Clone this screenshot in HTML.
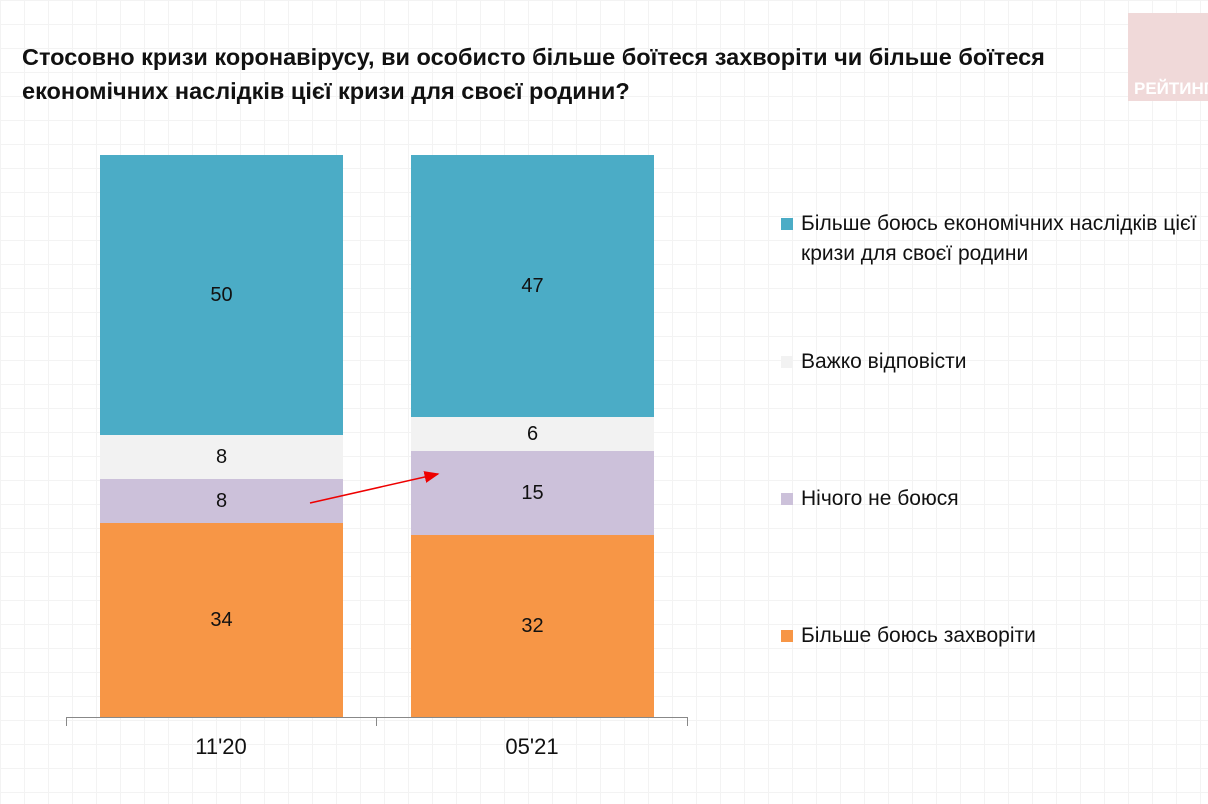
<!DOCTYPE html>
<html><head><meta charset="utf-8"><style>
body{margin:0;width:1208px;height:804px;overflow:hidden;background:#fff;font-family:"Liberation Sans",sans-serif;position:relative;
background-image:linear-gradient(#f3f3f3 1px,transparent 1px),linear-gradient(90deg,#f3f3f3 1px,transparent 1px);background-size:24px 24px;}
.t{position:absolute;left:22px;top:40px;font-weight:bold;font-size:23.5px;line-height:34px;color:#111;white-space:nowrap}
.logo{position:absolute;left:1128px;top:13px;width:80px;height:88px;background:#f0d9d9;}
.logo span{position:absolute;left:6px;top:66px;color:#fff;font-weight:bold;font-size:17px;white-space:nowrap}
.s{position:absolute;display:flex;align-items:center;justify-content:center;font-size:20px;color:#111}
.lg{position:absolute;left:781px;font-size:21px;line-height:30px;color:#111;white-space:nowrap}
.lg i{position:absolute;left:0;top:9px;width:12px;height:12px}
.lg div{margin-left:20px}
.ax{position:absolute;background:#888}
.xl{position:absolute;top:734px;font-size:22px;width:120px;text-align:center;color:#111}
</style></head><body>
<div class="t">Стосовно кризи коронавірусу, ви особисто більше боїтеся захворіти чи більше боїтеся<br>економічних наслідків цієї кризи для своєї родини?</div>
<div class="logo"><span>РЕЙТИНГ</span></div>
<div class="s" style="left:100px;top:155px;width:243px;height:280px;background:#4bacc6">50</div>
<div class="s" style="left:100px;top:435px;width:243px;height:44px;background:#f2f2f2">8</div>
<div class="s" style="left:100px;top:479px;width:243px;height:44px;background:#ccc1da">8</div>
<div class="s" style="left:100px;top:523px;width:243px;height:194px;background:#f79646">34</div>
<div class="s" style="left:411px;top:155px;width:243px;height:262px;background:#4bacc6">47</div>
<div class="s" style="left:411px;top:417px;width:243px;height:34px;background:#f2f2f2">6</div>
<div class="s" style="left:411px;top:451px;width:243px;height:84px;background:#ccc1da">15</div>
<div class="s" style="left:411px;top:535px;width:243px;height:182px;background:#f79646">32</div>
<div class="ax" style="left:66px;top:717px;width:621px;height:1px"></div>
<div class="ax" style="left:66px;top:717px;width:1px;height:9px"></div>
<div class="ax" style="left:376px;top:717px;width:1px;height:9px"></div>
<div class="ax" style="left:687px;top:717px;width:1px;height:9px"></div>
<div class="xl" style="left:161px">11'20</div>
<div class="xl" style="left:472px">05'21</div>
<svg style="position:absolute;left:0;top:0" width="1208" height="804"><defs><marker id="a" markerWidth="10" markerHeight="8" refX="9" refY="4" orient="auto"><path d="M0,0L10,4L0,8z" fill="#e00"/></marker></defs><line x1="310" y1="503" x2="438" y2="474" stroke="#e00" stroke-width="1.5" marker-end="url(#a)"/></svg>
<div class="lg" style="top:209px"><i style="background:#4bacc6"></i><div>Більше боюсь економічних наслідків цієї<br>кризи для своєї родини</div></div>
<div class="lg" style="top:347px"><i style="background:#f2f2f2"></i><div>Важко відповісти</div></div>
<div class="lg" style="top:484px"><i style="background:#ccc1da"></i><div>Нічого не боюся</div></div>
<div class="lg" style="top:621px"><i style="background:#f79646"></i><div>Більше боюсь захворіти</div></div>
</body></html>
